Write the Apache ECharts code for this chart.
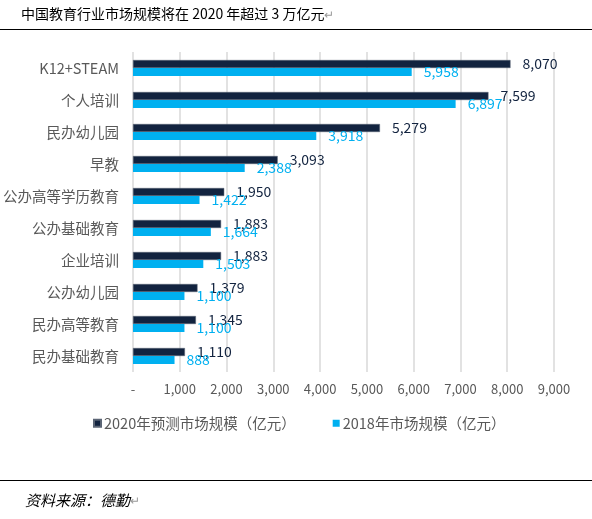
<!DOCTYPE html>
<html><head><meta charset="utf-8">
<script src="https://cdn.jsdelivr.net/npm/echarts@6/dist/echarts.min.js"></script>
<style>html,body{margin:0;padding:0;background:#fff}#c{width:592px;height:519px}</style>
</head><body><div id="c"></div>
<script>
const categories = ['K12+STEAM','个人培训','民办幼儿园','早教','公办高等学历教育','公办基础教育','企业培训','公办幼儿园','民办高等教育','民办基础教育'];
const values2020 = [8070,7599,5279,3093,1950,1883,1883,1379,1345,1110];
const values2018 = [5958,6897,3918,2388,1422,1664,1503,1100,1100,888];
const seriesNames = ['2020年预测市场规模（亿元）','2018年市场规模（亿元）'];
const xTicks = {min:0, max:9000, interval:1000};
const titleText = '中国教育行业市场规模将在 2020 年超过 3 万亿元';
const sourceText = '资料来源：德勤';

const fmt = v => v === 0 ? '-' : String(v).replace(/\B(?=(\d{3})+(?!\d))/g, ',');
const FONT = '"Noto Sans CJK SC", "Noto Sans", sans-serif';
const chart = echarts.init(document.getElementById('c'));
chart.setOption({
  animation:false,
  textStyle:{fontFamily:FONT},
  graphic:[
    {type:'text', left:21, top:7, style:{text:titleText + '{m|↵}', fontSize:14, fill:'#000', fontFamily:FONT,
      rich:{m:{fill:'#999', fontSize:12, fontFamily:FONT}}}},
    {type:'line', shape:{x1:0,y1:29.5,x2:592,y2:29.5}, style:{stroke:'#000', lineWidth:1}},
    {type:'line', shape:{x1:0,y1:480.5,x2:592,y2:480.5}, style:{stroke:'#000', lineWidth:1}},
    {type:'text', left:25, top:493, style:{text:sourceText + '{m|↵}', fontSize:15, fontStyle:'italic', fill:'#000', fontFamily:FONT,
      rich:{m:{fill:'#999', fontSize:12, fontStyle:'normal', fontFamily:FONT}}}}
  ],
  grid:{left:132, right:38, top:52, height:320, containLabel:false},
  legend:{
    data:seriesNames, left:88, top:411, icon:'rect', itemWidth:7, itemHeight:7, itemGap:37,
    textStyle:{color:'#595959', fontSize:14.5, fontFamily:FONT, padding:[0,0,0,-2]}
  },
  xAxis:{
    type:'value', min:xTicks.min, max:xTicks.max, interval:xTicks.interval,
    axisLine:{show:false}, axisTick:{show:false},
    splitLine:{show:true, lineStyle:{color:'#D9D9D9', width:1.5}},
    axisLabel:{formatter:fmt, color:'#595959', fontSize:13, margin:11, fontFamily:FONT}
  },
  yAxis:{
    type:'category', data:categories, inverse:true,
    axisLine:{show:false}, axisTick:{show:false},
    axisLabel:{color:'#595959', fontSize:14.5, margin:14, fontFamily:FONT}
  },
  series:[
    {name:seriesNames[0], type:'bar', data:values2020, barWidth:8, barGap:'0%',
     itemStyle:{color:'#12233F', borderColor:'#5b6575', borderWidth:0.5},
     label:{show:true, position:'right', distance:12, formatter:p=>fmt(p.value), color:'#12233F', fontSize:14, fontFamily:FONT}},
    {name:seriesNames[1], type:'bar', data:values2018, barWidth:8, barGap:'0%',
     itemStyle:{color:'#00B0F0'},
     label:{show:true, position:'right', distance:12, formatter:p=>fmt(p.value), color:'#00B0F0', fontSize:14, fontFamily:FONT}}
  ]
});
</script></body></html>
